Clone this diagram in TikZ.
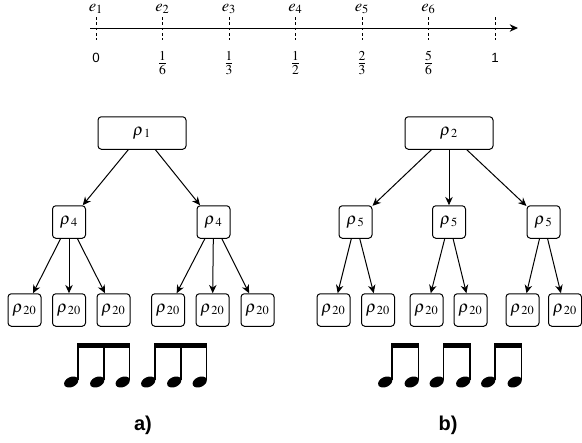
\documentclass[tikz,border=0pt]{standalone}
\usepackage{amsmath}
\usepackage{mathptmx}
\usepackage[no-math]{fontspec}
\setmainfont{Liberation Serif}
\newfontfamily\helv{Liberation Sans}
\usetikzlibrary{arrows.meta}

\newcommand{\rhosub}[1]{\rho_{\kern1.2pt#1}}

\tikzset{
  rbox/.style={draw,rounded corners=2pt,line width=0.6pt,minimum width=19.8pt,minimum height=19.5pt,inner sep=1pt},
  rootbox/.style={rbox,minimum width=52.8pt},
  arrowline/.style={line width=0.6pt,-{Stealth[length=5pt,width=4.5pt]}},
  tickline/.style={line width=0.5pt,dash pattern=on 1.6pt off 1.6pt},
  sanslabel/.style={font=\helv\fontsize{8}{9}\selectfont}
}

\begin{document}
\begin{tikzpicture}[x=0.6pt,y=-0.6pt]
    \useasboundingbox (0,0) rectangle (582,443);
    \coordinate (axstart) at (90,28);
    \coordinate (axend) at (518,28);
    \draw[arrowline] (axstart) -- (axend);
    \foreach \i in {0,...,6}
        \draw[tickline] (96+66.5*\i,17) -- (96+66.5*\i,40);
    \foreach \i in {1,...,6}
        \node (e\i) at (29.5+66.5*\i,9) {$e_{\i}$};
    \node[sanslabel] (zero) at (96,58) {0};
    \node[sanslabel] (one) at (495,58) {1};
    \foreach \i/\n/\d in {1/1/6,2/1/3,3/1/2,4/2/3,5/5/6}
        \node[font=\fontsize{11}{13}\selectfont] (f\i) at (96+66.5*\i,63) {$\frac{\n}{\d}$};

    \node[rootbox] (r1) at (142,133) {$\rhosub{1}$};
    \node[rbox] (a1) at (69,222) {$\rhosub{4}$};
    \node[rbox] (a2) at (213.5,222) {$\rhosub{4}$};
    \node[rbox] (a11) at (24.5,310) {$\rhosub{20}$};
    \node[rbox] (a12) at (69,310) {$\rhosub{20}$};
    \node[rbox] (a13) at (113.5,310) {$\rhosub{20}$};
    \node[rbox] (a21) at (168,310) {$\rhosub{20}$};
    \node[rbox] (a22) at (212.5,310) {$\rhosub{20}$};
    \node[rbox] (a23) at (257.5,310) {$\rhosub{20}$};
    \draw[arrowline] (r1) -- (a1);
    \draw[arrowline] (r1) -- (a2);
    \draw[arrowline] (a1) -- (a11);
    \draw[arrowline] (a1) -- (a12);
    \draw[arrowline] (a1) -- (a13);
    \draw[arrowline] (a2) -- (a21);
    \draw[arrowline] (a2) -- (a22);
    \draw[arrowline] (a2) -- (a23);

    \node[rootbox] (r2) at (449,133) {$\rhosub{2}$};
    \node[rbox] (b1) at (355.5,222) {$\rhosub{5}$};
    \node[rbox] (b2) at (449,222) {$\rhosub{5}$};
    \node[rbox] (b3) at (543.5,222) {$\rhosub{5}$};
    \node[rbox] (b11) at (333.5,310) {$\rhosub{20}$};
    \node[rbox] (b12) at (378,310) {$\rhosub{20}$};
    \node[rbox] (b21) at (426.5,310) {$\rhosub{20}$};
    \node[rbox] (b22) at (470.5,310) {$\rhosub{20}$};
    \node[rbox] (b31) at (522.5,310) {$\rhosub{20}$};
    \node[rbox] (b32) at (565,310) {$\rhosub{20}$};
    \draw[arrowline] (r2) -- (b1);
    \draw[arrowline] (r2) -- (b2);
    \draw[arrowline] (r2) -- (b3);
    \draw[arrowline] (b1) -- (b11);
    \draw[arrowline] (b1) -- (b12);
    \draw[arrowline] (b2) -- (b21);
    \draw[arrowline] (b2) -- (b22);
    \draw[arrowline] (b3) -- (b31);
    \draw[arrowline] (b3) -- (b32);

    \foreach \s in {78,104,129.5,155,181,206.5,392,418.5,443.5,470,495,521.5}{
        \fill[rotate around={25:(\s-6.8,382)}] (\s-6.8,382) ellipse (4.5pt and 3pt);
        \draw[line width=0.7pt] (\s,343) -- (\s,380);
    }
    \foreach \a/\b in {78/129.5,155/206.5,392/418.5,443.5/470,495/521.5}
        \fill (\a-0.4,342.5) rectangle (\b+0.4,347.5);

    \node[font=\helv\bfseries\large] (capa) at (143,425) {a)};
    \node[font=\helv\bfseries\large] (capb) at (448,425) {b)};
\end{tikzpicture}
\end{document}
